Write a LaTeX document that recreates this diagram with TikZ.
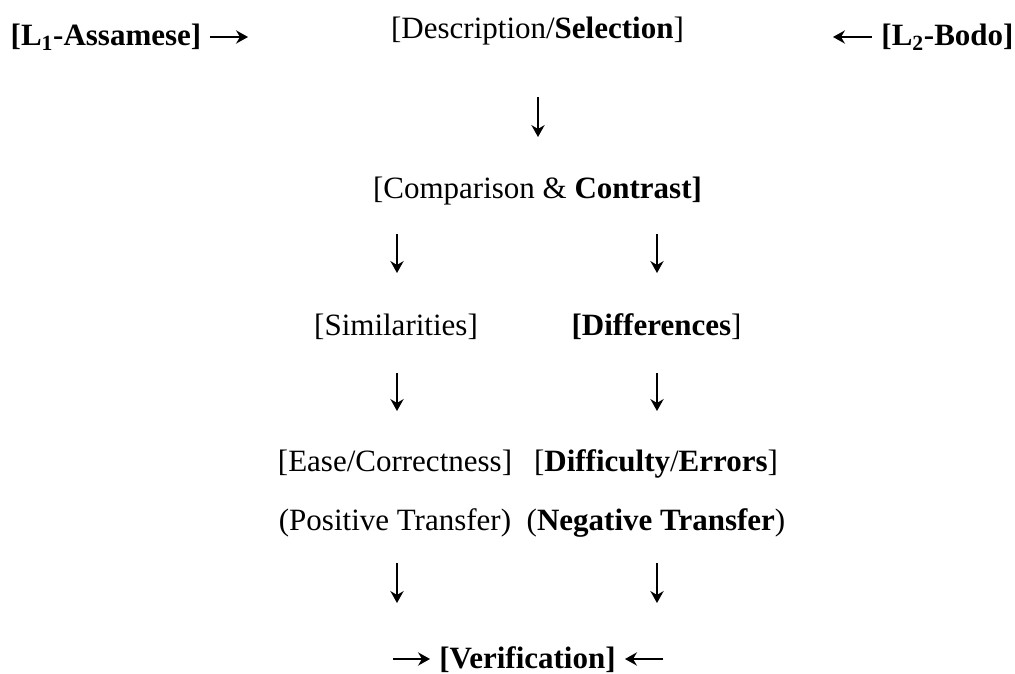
\documentclass[tikz,border=0pt]{standalone}
\usepackage{fontspec}
\setmainfont{Liberation Serif}
\usetikzlibrary{arrows.meta}
\begin{document}
\begin{tikzpicture}[x=0.75pt,y=-0.75pt,
  lbl/.style={anchor=base, inner sep=0pt, outer sep=0pt, font=\fontsize{23.25}{28}\selectfont},
  arr/.style={line width=1.1pt, -{Stealth[length=9pt,width=10pt,inset=3pt]}}]
\path[use as bounding box] (0,0) rectangle (1015,674);
% row 1
\node[lbl] (l1) at (106,46) {\textbf{[L\textsubscript{1}-Assamese]}};
\node[lbl] (desc) at (537.5,39) {[Description/\textbf{Selection}]};
\node[lbl] (l2) at (947.5,46) {\textbf{[L\textsubscript{2}-Bodo]}};
\coordinate (l1a) at (210,37); \coordinate (l1b) at (248,37);
\coordinate (l2a) at (872,37); \coordinate (l2b) at (833,37);
\draw[arr] (l1a) -- (l1b);
\draw[arr] (l2a) -- (l2b);
% row 2
\coordinate (d1a) at (538,97); \coordinate (d1b) at (538,137);
\draw[arr] (d1a) -- (d1b);
\node[lbl] (comp) at (537.5,199) {[Comparison \& \textbf{Contrast]}};
% row 3
\coordinate (s1a) at (397,234); \coordinate (s1b) at (397,273);
\coordinate (t1a) at (657,234); \coordinate (t1b) at (657,273);
\draw[arr] (s1a) -- (s1b);
\draw[arr] (t1a) -- (t1b);
\node[lbl] (sim) at (396,335) {[Similarities]};
\node[lbl] (diff) at (656.5,335) {\textbf{[Differences}]};
% row 4
\coordinate (s2a) at (397,373); \coordinate (s2b) at (397,411);
\coordinate (t2a) at (657,373); \coordinate (t2b) at (657,411);
\draw[arr] (s2a) -- (s2b);
\draw[arr] (t2a) -- (t2b);
\node[lbl] (ease) at (395,471) {[Ease/Correctness]};
\node[lbl] (diffi) at (656,471) {[\textbf{Difficulty}/\textbf{Errors}]};
\node[lbl] (pos) at (395,530) {(Positive Transfer)};
\node[lbl] (neg) at (656,530) {(\textbf{Negative Transfer})};
% row 5
\coordinate (s3a) at (397,563); \coordinate (s3b) at (397,603);
\coordinate (t3a) at (657,563); \coordinate (t3b) at (657,603);
\draw[arr] (s3a) -- (s3b);
\draw[arr] (t3a) -- (t3b);
\node[lbl] (ver) at (527.5,668.5) {\textbf{[Verification]}};
\coordinate (v1a) at (393,659); \coordinate (v1b) at (430,659);
\coordinate (v2a) at (663,659); \coordinate (v2b) at (625,659);
\draw[arr] (v1a) -- (v1b);
\draw[arr] (v2a) -- (v2b);
\end{tikzpicture}
\end{document}
